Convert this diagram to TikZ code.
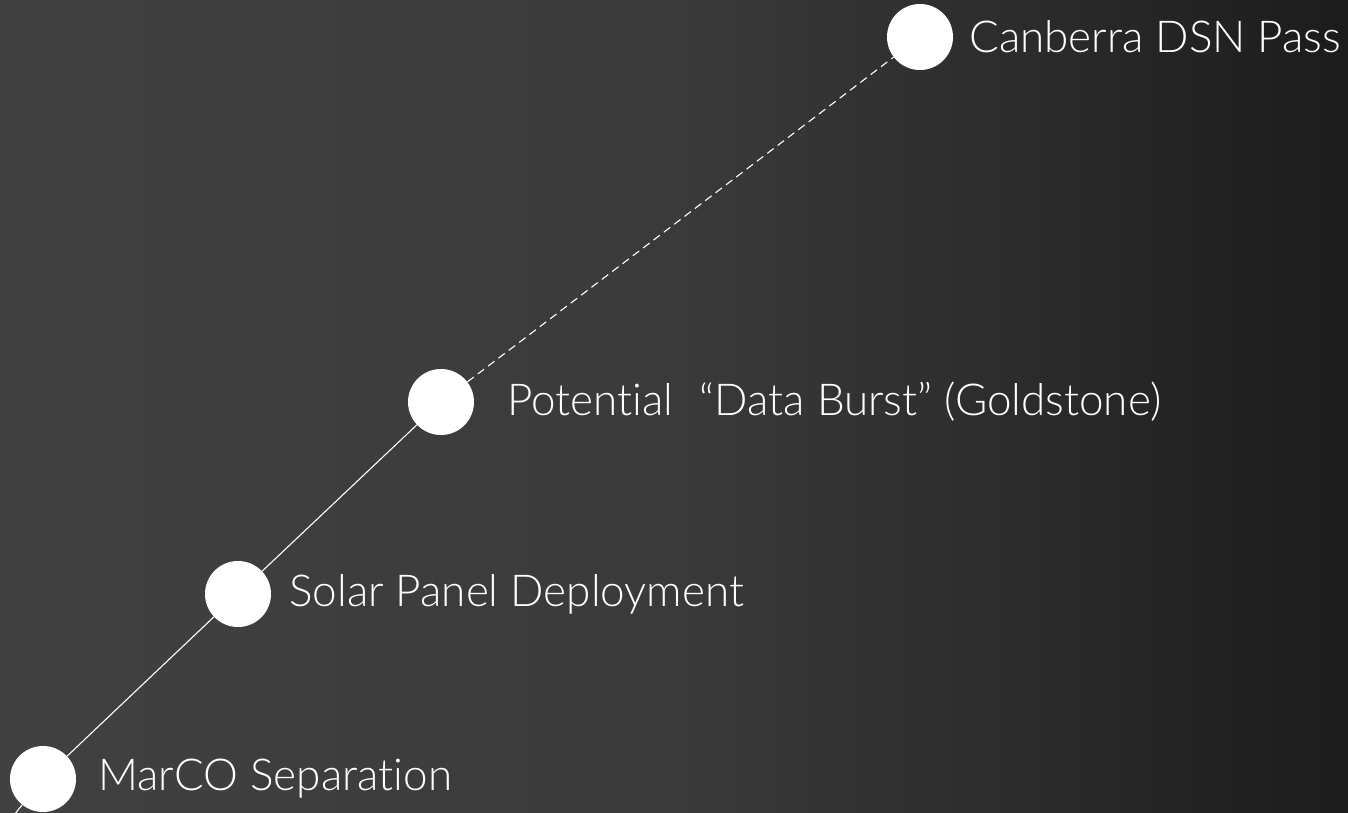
\documentclass[tikz,border=0pt]{standalone}
\usepackage{fontspec}
\setmainfont{Lato Light}[Ligatures=NoCommon]
\usetikzlibrary{positioning}
\definecolor{BgLeft}{HTML}{414141}
\definecolor{BgMid}{HTML}{3A3A3A}
\definecolor{BgDeep}{HTML}{2C2C2C}
\definecolor{BgRight}{HTML}{1C1C1C}
\pgfdeclarehorizontalshading{stageshade}{100bp}{color(0bp)=(BgLeft); color(25bp)=(BgLeft); color(50bp)=(BgMid); color(62.5bp)=(BgDeep); color(75bp)=(BgRight); color(100bp)=(BgRight)}

\begin{document}
\begin{tikzpicture}[x=1pt, y=-1pt,
  milestone/.style={circle, fill=white, minimum size=66pt, inner sep=0pt},
  event/.style={text=white, font=\fontsize{44}{50}\selectfont, anchor=west, inner sep=0pt},
  trackline/.style={white, line width=1.1pt}]
  % Background
  \shade[shading=stageshade] (0,0) rectangle (1348,813);
  \useasboundingbox (0,0) rectangle (1348,813);
  % Milestones
  \foreach \n/\x/\y in {marco/43/779, solar/238/594, burst/441/402, dsn/920/37}{
    \node[milestone] (\n) at (\x,\y) {};
  }
  \coordinate (launch) at (14,815);
  % Track
  \draw[trackline] (launch) -- (marco) -- (solar) -- (burst);
  \draw[trackline, dash pattern=on 8pt off 5pt] (burst) -- (dsn);
  % Labels
  \node[event, right=22pt of marco] (marcolbl) {MarCO Separation};
  \node[event, right=18pt of solar] (solarlbl) {Solar Panel Deployment};
  \node[event, right=33pt of burst] (burstlbl) {Potential\hspace{0.6em}“Data Burst” (Goldstone)};
  \node[event, right=16pt of dsn] (dsnlbl) {Canberra DSN Pass};
\end{tikzpicture}
\end{document}
